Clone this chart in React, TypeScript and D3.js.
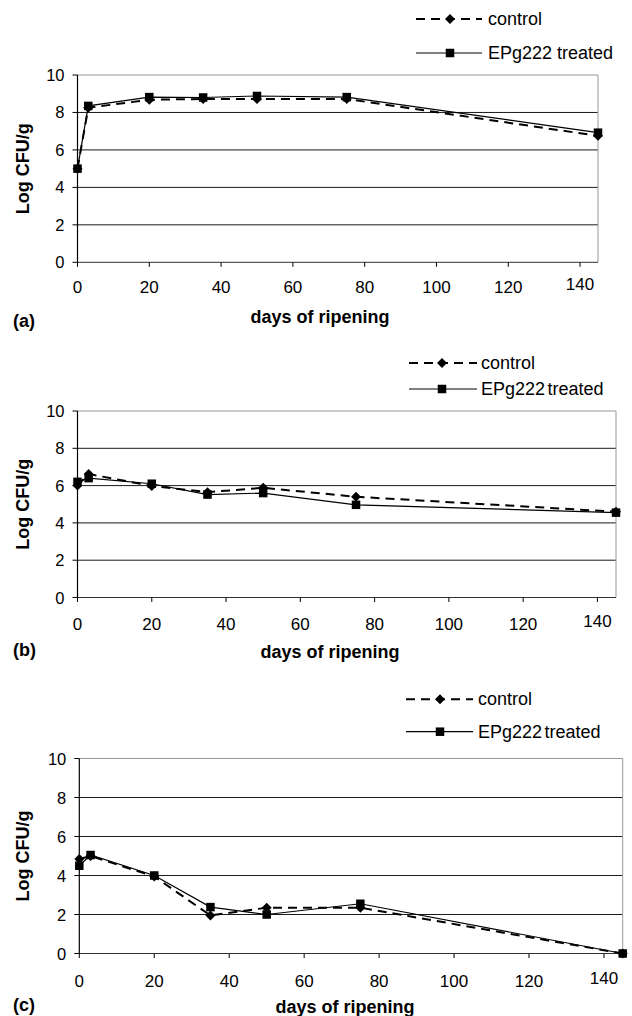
import React from "react";
import * as d3 from "d3";

const days = [0, 3, 20, 35, 50, 75, 145];
const controlA = [5.0, 8.25, 8.68, 8.72, 8.72, 8.72, 6.75];
const treatedA = [5.0, 8.35, 8.82, 8.8, 8.88, 8.82, 6.92];
const controlB = [6.0, 6.62, 5.98, 5.65, 5.88, 5.4, 4.6];
const treatedB = [6.2, 6.4, 6.1, 5.52, 5.6, 4.97, 4.55];
const controlC = [4.85, 5.0, 3.95, 1.95, 2.35, 2.35, 0.0];
const treatedC = [4.5, 5.05, 4.0, 2.38, 2.0, 2.55, 0.0];
const xTicks = [0, 20, 40, 60, 80, 100, 120, 140];
const yTicks = [0, 2, 4, 6, 8, 10];
const seriesNames = ["control", "EPg222 treated"];
const panelLabels = ["(a)", "(b)", "(c)"];
const xTitle = "days of ripening";
const yTitle = "Log CFU/g";

const layouts = [
  { x0: 77.5, x1: 598, yTop: 75, yBot: 262.3, lx1: 416, lx2: 482, lm: 450, lt: 488, ly1: 19, ly2: 53, ws: 0, xl: 287.5, tx: 320, ty: 317, pl: 320.5 },
  { x0: 77.5, x1: 616, yTop: 411, yBot: 597.5, lx1: 409, lx2: 477, lm: 442, lt: 481, ly1: 363, ly2: 389, ws: -2.5, xl: 624.5, tx: 330, ty: 651.7, pl: 650 },
  { x0: 79.3, x1: 622.7, yTop: 758.5, yBot: 953.5, lx1: 406, lx2: 473, lm: 440, lt: 478, ly1: 699.3, ly2: 731.7, ws: -2.5, xl: 981, tx: 345, ty: 1006.7, pl: 1005 },
];
const panelData = [
  [controlA, treatedA],
  [controlB, treatedB],
  [controlC, treatedC],
];

const FONT = "'Liberation Sans', Arial, Helvetica, sans-serif";

function Diamond({ x, y }: { x: number; y: number }) {
  const r = 5;
  return <path d={`M${x},${y - r}L${x + r},${y}L${x},${y + r}L${x - r},${y}Z`} fill="#000" />;
}
function Square({ x, y }: { x: number; y: number }) {
  const s = 8.5;
  return <rect x={x - s / 2} y={y - s / 2} width={s} height={s} fill="#000" />;
}

function Panel({ idx }: { idx: number }) {
  const L = layouts[idx];
  const [ctrl, trt] = panelData[idx];
  const x = d3.scaleLinear().domain([0, 145]).range([L.x0, L.x1]);
  const y = d3.scaleLinear().domain([0, 10]).range([L.yBot, L.yTop]);
  const line = d3
    .line<number>()
    .x((_, i) => x(days[i]))
    .y((d) => y(d));
  return (
    <g fontFamily={FONT}>
      {/* legend */}
      <line x1={L.lx1} x2={L.lx2} y1={L.ly1} y2={L.ly1} stroke="#000" strokeWidth={2} strokeDasharray="9 6" />
      <Diamond x={L.lm} y={L.ly1} />
      <text x={L.lt} y={L.ly1} dominantBaseline="central" fontSize={18}>{seriesNames[0]}</text>
      <line x1={L.lx1} x2={L.lx2} y1={L.ly2} y2={L.ly2} stroke="#000" strokeWidth={1.2} />
      <Square x={L.lm} y={L.ly2} />
      <text x={L.lt} y={L.ly2} dominantBaseline="central" fontSize={18} wordSpacing={L.ws}>{seriesNames[1]}</text>

      {/* gridlines */}
      {yTicks.filter((t) => t > 0 && t < 10).map((t) => (
        <line key={t} x1={L.x0} x2={L.x1} y1={y(t)} y2={y(t)} stroke="#1a1a1a" strokeWidth={1} />
      ))}
      {/* plot border */}
      <line x1={L.x0} x2={L.x1} y1={L.yTop} y2={L.yTop} stroke="#999" strokeWidth={1} />
      <line x1={L.x1} x2={L.x1} y1={L.yTop} y2={L.yBot} stroke="#999" strokeWidth={1} />
      {/* axes */}
      <line x1={L.x0} x2={L.x1} y1={L.yBot} y2={L.yBot} stroke="#333" strokeWidth={1} />
      <line x1={L.x0} x2={L.x0} y1={L.yTop} y2={L.yBot} stroke="#000" strokeWidth={1.2} />
      {yTicks.map((t) => (
        <g key={t}>
          <line x1={L.x0 - 5} x2={L.x0} y1={y(t)} y2={y(t)} stroke="#000" strokeWidth={1} />
          <text x={L.x0 - 13} y={y(t)} textAnchor="end" dominantBaseline="central" fontSize={16.5}>{t}</text>
        </g>
      ))}
      {xTicks.map((t) => (
        <g key={t}>
          <line x1={x(t)} x2={x(t)} y1={L.yBot} y2={L.yBot + 4.5} stroke="#000" strokeWidth={1} />
          <text x={x(t)} y={L.xl - (t === 140 ? 3 : 0)} textAnchor="middle" dominantBaseline="central" fontSize={17}>{t}</text>
        </g>
      ))}

      {/* series */}
      <path d={line(ctrl) || ""} fill="none" stroke="#000" strokeWidth={2} strokeDasharray="9 6" />
      <path d={line(trt) || ""} fill="none" stroke="#000" strokeWidth={1.2} />
      {ctrl.map((v, i) => <Diamond key={"c" + i} x={x(days[i])} y={y(v)} />)}
      {trt.map((v, i) => <Square key={"t" + i} x={x(days[i])} y={y(v)} />)}

      {/* titles */}
      <text x={L.tx} y={L.ty} textAnchor="middle" dominantBaseline="central" fontSize={18} fontWeight="bold">{xTitle}</text>
      <text x={13} y={L.pl} dominantBaseline="central" fontSize={18} fontWeight="bold">{panelLabels[idx]}</text>
      <text transform={`translate(23,${(L.yTop + L.yBot) / 2}) rotate(-90)`} textAnchor="middle" dominantBaseline="central" fontSize={18} fontWeight="bold">{yTitle}</text>
    </g>
  );
}

export default function App() {
  return (
    <svg width={632} height={1016} style={{ position: "absolute", left: 0, top: 0, background: "#fff" }}>
      <rect width={632} height={1016} fill="#fff" />
      {[0, 1, 2].map((i) => <Panel key={i} idx={i} />)}
    </svg>
  );
}
